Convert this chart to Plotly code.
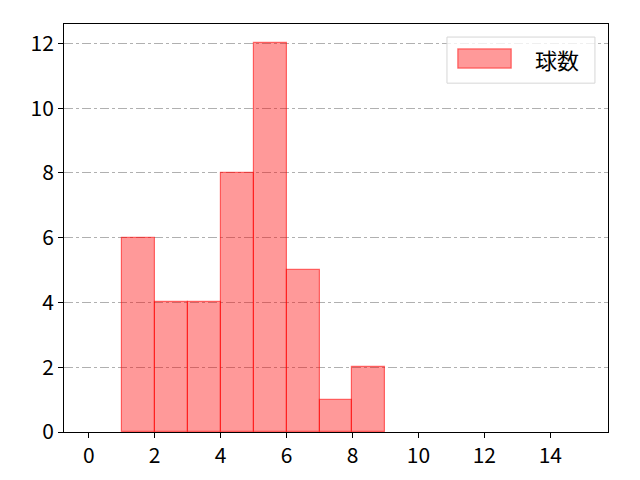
import plotly.graph_objects as go

bin_left = list(range(0, 15))
counts = [0, 6, 4, 4, 8, 12, 5, 1, 2, 0, 0, 0, 0, 0, 0]
series_name = "球数"
x_ticks = [0, 2, 4, 6, 8, 10, 12, 14]
y_ticks = [0, 2, 4, 6, 8, 10, 12]

font = "Noto Sans CJK JP, DejaVu Sans, sans-serif"
fill = "rgba(255,0,0,0.4)"
edge = "rgba(255,0,0,0.55)"

xs = [b + 0.5 for b, c in zip(bin_left, counts) if c > 0]
ys = [c for c in counts if c > 0]

fig = go.Figure()
fig.add_trace(go.Bar(
    x=xs, y=ys, width=1, name=series_name,
    marker=dict(color=fill, line=dict(color=edge, width=1.2)),
    showlegend=False,
))

# legend drawn as box + patch + text (paper coords)
fig.add_shape(type="rect", xref="paper", yref="paper",
              x0=0.704, x1=0.976, y0=0.855, y1=0.968,
              line=dict(color="#d6d6d6", width=1), fillcolor="rgba(255,255,255,0.8)", layer="above")
fig.add_shape(type="rect", xref="paper", yref="paper",
              x0=0.724, x1=0.822, y0=0.892, y1=0.939,
              line=dict(color=edge, width=1.2), fillcolor=fill, layer="above")
fig.add_annotation(xref="paper", yref="paper", x=0.862, y=0.913, xanchor="left", yanchor="middle",
                   text=series_name, showarrow=False, font=dict(size=22, color="black", family=font))

fig.update_layout(
    width=632, height=472,
    margin=dict(l=56, r=32, t=16, b=48),
    plot_bgcolor="white", paper_bgcolor="white",
    font=dict(family=font, size=21, color="black"),
    bargap=0,
    xaxis=dict(
        range=[-0.75, 15.75], tickvals=x_ticks, ticks="outside", ticklen=5,
        tickcolor="black", showgrid=False, zeroline=False,
        showline=True, linecolor="black", mirror=True, linewidth=1,
    ),
    yaxis=dict(
        range=[0, 12.6], tickvals=y_ticks, ticks="outside", ticklen=5,
        tickcolor="black", showgrid=True, gridcolor="#b0b0b0", griddash="dashdot",
        gridwidth=1, zeroline=False,
        showline=True, linecolor="black", mirror=True, linewidth=1,
    ),
)

fig.write_html("out.html")
